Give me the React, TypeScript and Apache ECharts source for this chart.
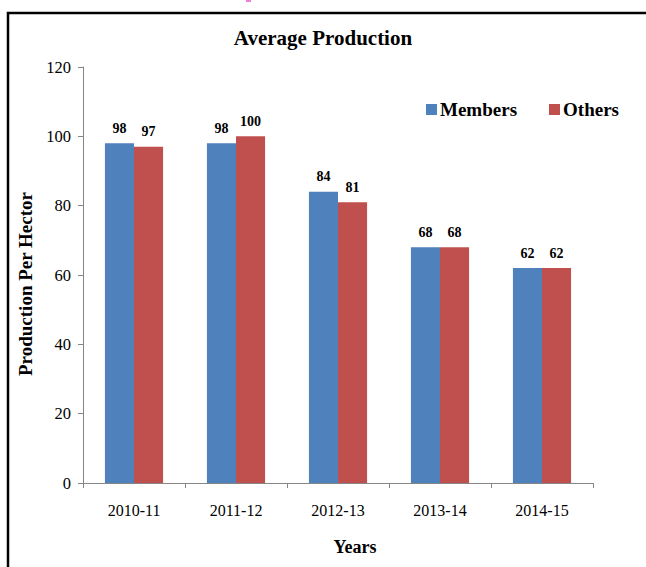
import React, { useEffect, useRef } from "react";
import * as echarts from "echarts";

const categories = ["2010-11", "2011-12", "2012-13", "2013-14", "2014-15"];
const members = [98, 98, 84, 68, 62];
const others = [97, 100, 81, 68, 62];
const yTicks = [0, 20, 40, 60, 80, 100, 120];

const FONT = "'Liberation Serif', 'Times New Roman', serif";

export default function App() {
  const ref = useRef<HTMLDivElement>(null);
  useEffect(() => {
    if (!ref.current) return;
    const chart = echarts.init(ref.current, undefined, { renderer: "svg" });
    const label = {
      show: true,
      position: "top",
      distance: 8,
      fontFamily: FONT,
      fontWeight: "bold",
      fontSize: 14,
      color: "#000",
    };
    chart.setOption({
      animation: false,
      backgroundColor: "#fff",
      title: {
        text: "Average Production",
        left: "center",
        top: 22,
        textStyle: { fontFamily: FONT, fontWeight: "bold", fontSize: 21, color: "#000" },
      },
      legend: {
        data: ["Members", "Others"],
        left: 421,
        top: 95,
        itemWidth: 11,
        itemHeight: 11,
        itemGap: 32,
        icon: "rect",
        textStyle: { fontFamily: FONT, fontWeight: "bold", fontSize: 19, color: "#000", padding: [0, 0, 0, -2] },
      },
      grid: { left: 83, right: 53, top: 67, bottom: 84 },
      xAxis: {
        type: "category",
        data: categories,
        name: "Years",
        nameLocation: "middle",
        nameGap: 55,
        nameTextStyle: { fontFamily: FONT, fontWeight: "bold", fontSize: 18, color: "#000", padding: [0, 0, 0, 34] },
        axisLine: { lineStyle: { color: "#868686", width: 1 } },
        axisTick: { show: true, length: 5, lineStyle: { color: "#868686" } },
        axisLabel: { fontFamily: FONT, fontSize: 16, color: "#000", margin: 19 },
      },
      yAxis: {
        type: "value",
        min: 0,
        max: 120,
        interval: 20,
        name: "Production Per Hector",
        nameLocation: "middle",
        nameGap: 43,
        nameTextStyle: { fontFamily: FONT, fontWeight: "bold", fontSize: 19, color: "#000", padding: [0, 18, 0, 0] },
        axisLine: { show: true, lineStyle: { color: "#868686", width: 1 } },
        axisTick: { show: true, length: 5, lineStyle: { color: "#868686" } },
        splitLine: { show: false },
        axisLabel: {
          fontFamily: FONT,
          fontSize: 16.5,
          color: "#000",
          margin: 12,
          formatter: (v: number) => (yTicks.includes(v) ? String(v) : ""),
        },
      },
      series: [
        {
          name: "Members",
          type: "bar",
          data: members,
          itemStyle: { color: "#4F81BD" },
          barGap: "0%",
          barCategoryGap: "43%",
          label,
        },
        {
          name: "Others",
          type: "bar",
          data: others,
          itemStyle: { color: "#C0504D" },
          label,
        },
      ],
      graphic: [
        {
          type: "rect",
          shape: { x: 8, y: 13, width: 660, height: 600 },
          style: { fill: "none", stroke: "#000", lineWidth: 2.5 },
          silent: true,
        },
        {
          type: "rect",
          shape: { x: 246, y: 0, width: 5, height: 2 },
          style: { fill: "#f07fd8" },
          silent: true,
        },
      ],
    });
    return () => chart.dispose();
  }, []);
  return <div ref={ref} style={{ width: 646, height: 567, position: "fixed", left: 0, top: 0 }} />;
}
